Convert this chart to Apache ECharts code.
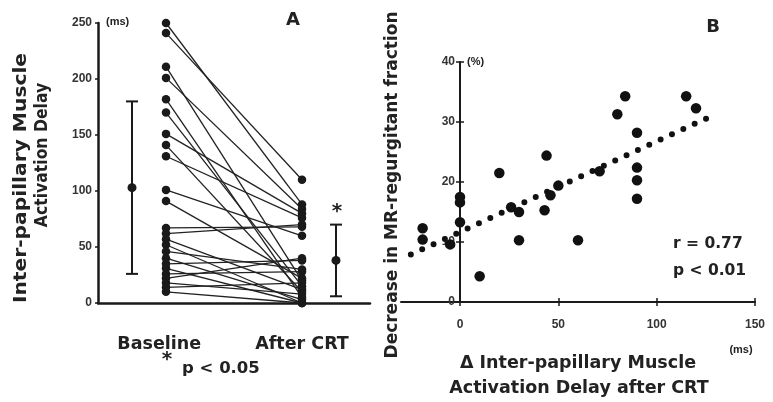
<!DOCTYPE html>
<html>
<head>
<meta charset="utf-8">
<script src="https://cdn.jsdelivr.net/npm/echarts@6/dist/echarts.min.js"></script>
<style>
html,body{margin:0;padding:0;background:#fff;}
#chart{width:773px;height:402px;}
</style>
</head>
<body>
<div id="chart"></div>
<script>
// ---------- Panel A data ----------
const groupNames = ['Baseline', 'After CRT'];
const baselineMs = [250, 241, 211, 201, 182, 170, 151, 141, 131, 101, 91, 67, 62, 57, 52, 46, 40, 35, 31, 26, 22, 18, 14, 10];
const afterCrtMs = [88, 110, 20, 84, 5, 15, 80, 10, 76, 60, 22, 68, 70, 12, 0, 30, 3, 38, 0, 28, 40, 8, 18, 0];
const groupMeans = [103, 38];
const groupSds = [77, 32];
const yTicksA = [0, 50, 100, 150, 200, 250];

// ---------- Panel B data ----------
const deltaMs = [-19, -19, -5, 0, 0, 0, 10, 20, 26, 30, 30, 43, 44, 46, 50, 60, 71, 80, 84, 90, 90, 90, 90, 115, 120];
const mrDecrease = [12.3, 10.4, 9.6, 17.5, 16.6, 13.3, 4.3, 21.5, 15.8, 15.0, 10.3, 15.3, 24.4, 17.8, 19.4, 10.3, 21.8, 31.3, 34.3, 28.2, 22.4, 20.3, 17.2, 34.3, 32.3];
const trendX = [-25, 128];
const trendY = [7.9, 31.0];
const xTicksB = [0, 50, 100, 150];
const yTicksB = [0, 10, 20, 30, 40];

const INK = '#1a1a1a';
const TXT = '#222';
const tickFont = {fontFamily: 'Liberation Sans', fontWeight: 'bold', fontSize: 12, color: '#333'};

// layout of panel B: x range and pixel geometry
const xMinB = -30, xMaxB = 150, gridBLeft = 401, gridBWidth = 354;
const yAxisOffsetB = -gridBWidth * (0 - xMinB) / (xMaxB - xMinB);

// positions of groups on panel A's hidden x scale
const posBaseDots = 2, posAfterDots = 6, posBaseBar = 1, posAfterBar = 7;

const series = [];
baselineMs.forEach((b, i) => {
  series.push({
    type: 'line', xAxisIndex: 0, yAxisIndex: 0,
    data: [[posBaseDots, b], [posAfterDots, afterCrtMs[i]]],
    symbol: 'circle', symbolSize: 8.5,
    itemStyle: {color: INK, opacity: 1},
    lineStyle: {color: '#222', width: 1.3},
    silent: true, z: 3
  });
});

series.push({
  type: 'custom', xAxisIndex: 0, yAxisIndex: 0,
  data: [[posBaseBar, groupMeans[0] - groupSds[0], groupMeans[0], groupMeans[0] + groupSds[0]],
         [posAfterBar, groupMeans[1] - groupSds[1], groupMeans[1], groupMeans[1] + groupSds[1]]],
  renderItem: function (params, api) {
    const x = api.value(0);
    const lo = api.coord([x, api.value(1)]);
    const mid = api.coord([x, api.value(2)]);
    const hi = api.coord([x, api.value(3)]);
    const hw = 6;
    const ls = {stroke: INK, lineWidth: 2};
    return {
      type: 'group',
      children: [
        {type: 'line', shape: {x1: lo[0], y1: lo[1], x2: hi[0], y2: hi[1]}, style: ls},
        {type: 'line', shape: {x1: lo[0] - hw, y1: lo[1], x2: lo[0] + hw, y2: lo[1]}, style: ls},
        {type: 'line', shape: {x1: hi[0] - hw, y1: hi[1], x2: hi[0] + hw, y2: hi[1]}, style: ls},
        {type: 'circle', shape: {cx: mid[0], cy: mid[1], r: 4.5}, style: {fill: INK}}
      ]
    };
  },
  silent: true, z: 4
});

series.push({
  type: 'scatter', xAxisIndex: 1, yAxisIndex: 1,
  data: deltaMs.map((d, i) => [d, mrDecrease[i]]),
  symbol: 'circle', symbolSize: 10.5,
  itemStyle: {color: '#111', opacity: 1}, silent: true, z: 4
});

series.push({
  type: 'line', xAxisIndex: 1, yAxisIndex: 1,
  data: trendX.map((x, i) => [x, trendY[i]]),
  symbol: 'none',
  lineStyle: {color: '#111', width: 6, type: [0, 12.5], cap: 'round', opacity: 1},
  silent: true, z: 3
});

function vtext(txt, x, y, size, stretch) {
  return {type: 'text', x: x, y: y, rotation: Math.PI / 2, scaleX: stretch || 1,
    style: {text: txt, fill: TXT, font: 'bold ' + size + 'px "DejaVu Sans"', textAlign: 'center', textVerticalAlign: 'middle'}};
}
function htext(txt, x, y, size, align, family) {
  return {type: 'text', x: x, y: y,
    style: {text: txt, fill: TXT, font: 'bold ' + size + 'px ' + (family || '"DejaVu Sans"'), textAlign: align || 'center', textVerticalAlign: 'middle'}};
}

const option = {
  animation: false,
  backgroundColor: '#fff',
  grid: [
    {left: 98, top: 23, width: 272, height: 280},
    {left: gridBLeft, top: 62, width: gridBWidth, height: 240}
  ],
  xAxis: [
    {
      gridIndex: 0, type: 'value', min: 0, max: 8,
      axisLine: {onZero: false, lineStyle: {color: INK, width: 2.5}},
      axisTick: {show: false},
      splitLine: {show: false},
      axisLabel: {
        customValues: [1.8, 6],
        formatter: v => (v < 4 ? groupNames[0] : groupNames[1]),
        fontFamily: 'DejaVu Sans', fontWeight: 'bold', fontSize: 17.5, color: TXT, margin: 32
      }
    },
    {
      gridIndex: 1, type: 'value', min: xMinB, max: xMaxB,
      axisLine: {onZero: false, lineStyle: {color: INK, width: 2}},
      axisTick: {customValues: xTicksB, length: 4, lineStyle: {color: INK, width: 1.5}},
      axisLabel: Object.assign({customValues: xTicksB, margin: 17}, tickFont),
      splitLine: {show: false}
    },
    {
      gridIndex: 1, type: 'value', min: xMinB, max: xMaxB, position: 'bottom',
      axisLine: {show: false, onZero: false},
      axisTick: {customValues: xTicksB, inside: true, length: 4, lineStyle: {color: INK, width: 1.5}},
      axisLabel: {show: false},
      splitLine: {show: false}
    }
  ],
  yAxis: [
    {
      gridIndex: 0, type: 'value', min: 0, max: 250, interval: 50,
      axisLine: {show: true, onZero: false, lineStyle: {color: INK, width: 2.5}},
      axisTick: {show: true, length: 3, lineStyle: {color: INK, width: 1.5}},
      axisLabel: Object.assign({margin: 6}, tickFont),
      splitLine: {show: false}
    },
    {
      gridIndex: 1, type: 'value', min: 0, max: 40, interval: 10,
      position: 'left', offset: yAxisOffsetB,
      axisLine: {show: true, onZero: false, lineStyle: {color: INK, width: 2}},
      axisTick: {show: true, length: 4, lineStyle: {color: INK, width: 1.5}},
      axisLabel: Object.assign({margin: 5}, tickFont),
      splitLine: {show: false}
    },
    {
      gridIndex: 1, type: 'value', min: 0, max: 40, interval: 10,
      position: 'left', offset: yAxisOffsetB,
      axisLine: {show: false, onZero: false},
      axisTick: {show: true, inside: true, length: 4, lineStyle: {color: INK, width: 1.5}},
      axisLabel: {show: false},
      splitLine: {show: false}
    }
  ],
  series: series,
  graphic: [
    vtext('Inter-papillary Muscle', 22, 178, 17, 1.19),
    vtext('Activation Delay', 43, 155, 17, 0.92),
    htext('(ms)', 106, 22, 11, 'left', '"Liberation Sans"'),
    htext('A', 293, 20, 18),
    htext('*', 337, 212, 20),
    htext('*', 167, 360, 20),
    htext('p < 0.05', 182, 369, 16.5, 'left'),
    vtext('Decrease in MR-regurgitant fraction', 393, 185, 17),
    htext('B', 713, 27, 18),
    htext('(%)', 467, 62, 11, 'left', '"Liberation Sans"'),
    htext('r = 0.77', 673, 244, 15.5, 'left'),
    htext('p < 0.01', 673, 271, 15.5, 'left'),
    htext('(ms)', 741, 350, 11, 'center', '"Liberation Sans"'),
    htext('\u0394 Inter-papillary Muscle', 578, 363, 17.5),
    htext('Activation Delay after CRT', 579, 388, 17.5)
  ]
};

const chart = echarts.init(document.getElementById('chart'), null, {renderer: 'canvas'});
chart.setOption(option);
</script>
</body>
</html>
